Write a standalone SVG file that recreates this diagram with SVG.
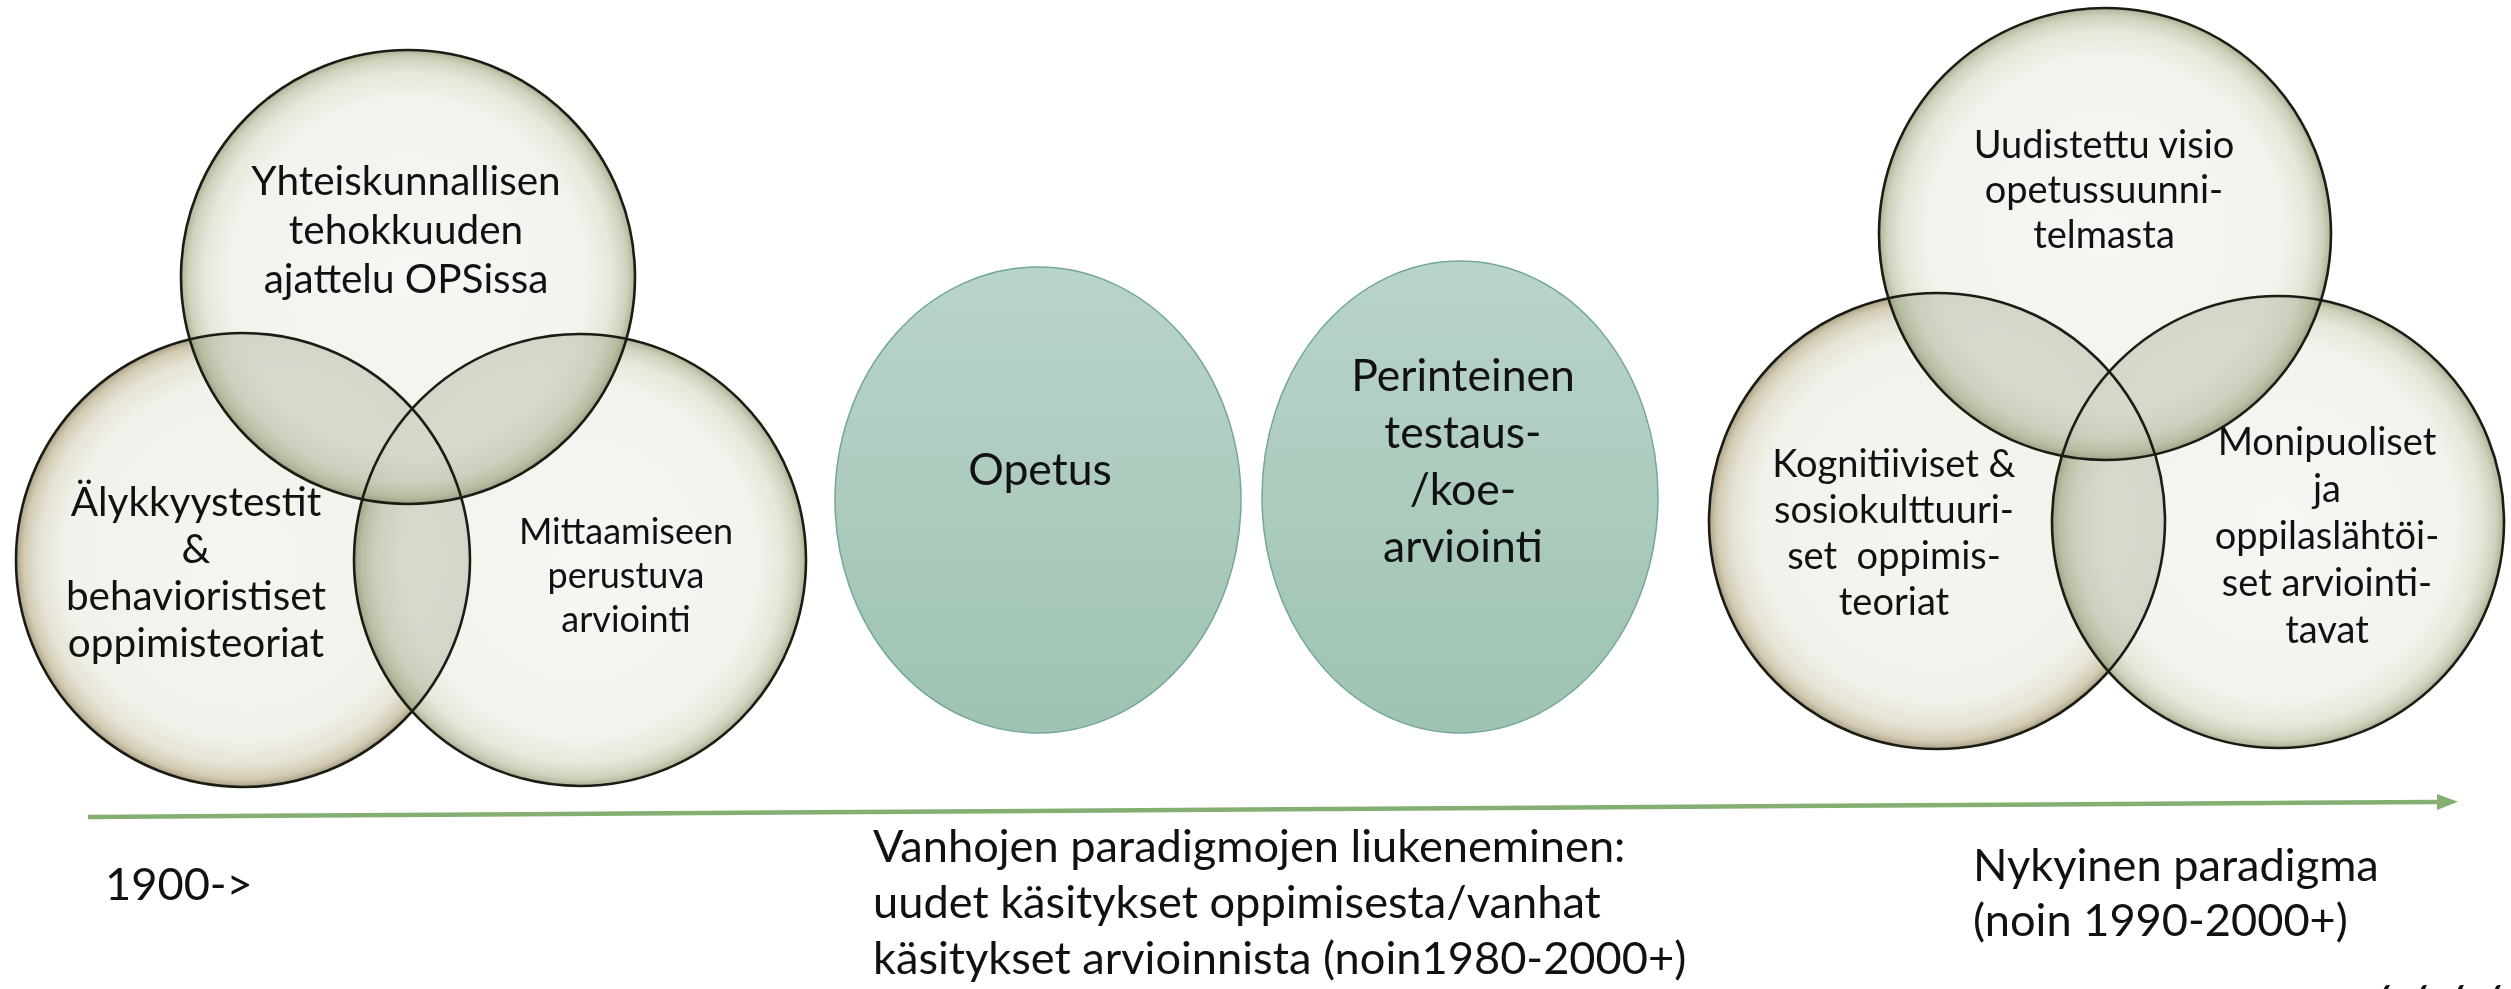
<svg xmlns="http://www.w3.org/2000/svg" width="2511" height="989" viewBox="0 0 2511 989">
  <style>
    .t { font-family: Lato, "Liberation Sans", sans-serif; fill: #111; }
    .c1 { font-size: 40.5px; text-anchor: middle; }
    .c2 { font-size: 36px; text-anchor: middle; }
    .c3 { font-size: 38px; text-anchor: middle; }
    .c4 { font-size: 44.5px; text-anchor: middle; }
    .b { font-size: 45.2px; }
    .outline { fill: none; stroke: #1c1c14; stroke-width: 2.6; }
    .lens { fill: #737a55; }
    .mid { stroke: #73a893; stroke-width: 1.5; fill: url(#gMid); }
  </style>
  <defs>
    <radialGradient id="gGreen" cx="0.5" cy="0.5" r="0.5">
      <stop offset="0" stop-color="#f5f6f2"/>
      <stop offset="0.78" stop-color="#f1f2ec"/>
      <stop offset="0.9" stop-color="#e2e5d6"/>
      <stop offset="0.965" stop-color="#c9cdb4"/>
      <stop offset="1" stop-color="#a5aa8b"/>
    </radialGradient>
    <radialGradient id="gBeige" cx="0.5" cy="0.5" r="0.5">
      <stop offset="0" stop-color="#f5f5f1"/>
      <stop offset="0.78" stop-color="#f2f2ec"/>
      <stop offset="0.9" stop-color="#e6e3d6"/>
      <stop offset="0.965" stop-color="#d2cbb2"/>
      <stop offset="1" stop-color="#aba388"/>
    </radialGradient>
    <linearGradient id="gMid" x1="0" y1="0" x2="0" y2="1">
      <stop offset="0" stop-color="#b9d4c9"/>
      <stop offset="1" stop-color="#9fc3b2"/>
    </linearGradient>
    <clipPath id="kLT"><circle cx="408" cy="277" r="227"/></clipPath>
    <clipPath id="kLB"><circle cx="243" cy="560" r="227"/></clipPath>
    <clipPath id="kLR"><circle cx="580" cy="560" r="226"/></clipPath>
    <clipPath id="kRT"><circle cx="2105" cy="234" r="226"/></clipPath>
    <clipPath id="kRB"><circle cx="1937" cy="521" r="228"/></clipPath>
    <clipPath id="kRR"><circle cx="2278" cy="522" r="226"/></clipPath>
    <marker id="arr" viewBox="0 0 21 16" refX="0" refY="8" markerWidth="21" markerHeight="16" markerUnits="userSpaceOnUse" orient="auto">
      <path d="M0,0 L21,8 L0,16 z" fill="#85ae73"/>
    </marker>
  </defs>

  <g id="fills">
    <circle cx="243" cy="560" r="227" fill="url(#gBeige)"/>
    <circle cx="580" cy="560" r="226" fill="url(#gGreen)" fill-opacity="0.9"/>
    <circle cx="408" cy="277" r="227" fill="url(#gGreen)" fill-opacity="0.9"/>
    <circle cx="1937" cy="521" r="228" fill="url(#gBeige)"/>
    <circle cx="2278" cy="522" r="226" fill="url(#gGreen)" fill-opacity="0.9"/>
    <circle cx="2105" cy="234" r="226" fill="url(#gGreen)" fill-opacity="0.9"/>
  </g>

  <g id="overlaps">
    <g opacity="0.2">
      <circle class="lens" cx="408" cy="277" r="227" clip-path="url(#kLB)"/>
      <circle class="lens" cx="408" cy="277" r="227" clip-path="url(#kLR)"/>
      <circle class="lens" cx="243" cy="560" r="227" clip-path="url(#kLR)"/>
    </g>
    <g opacity="0.2">
      <circle class="lens" cx="2105" cy="234" r="226" clip-path="url(#kRB)"/>
      <circle class="lens" cx="2105" cy="234" r="226" clip-path="url(#kRR)"/>
      <circle class="lens" cx="1937" cy="521" r="228" clip-path="url(#kRR)"/>
    </g>
  </g>

  <g id="connectors">
    <line x1="88" y1="817" x2="2437" y2="802" stroke="#85ae73" stroke-width="4.5" marker-end="url(#arr)"/>
  </g>

  <g id="node-yhteiskunnallisen">
    <circle class="outline" cx="408" cy="277" r="227"/>
    <text class="t c1" x="406" y="195">Yhteiskunnallisen</text>
    <text class="t c1" x="406" y="244">tehokkuuden</text>
    <text class="t c1" x="406" y="293">ajattelu OPSissa</text>
  </g>
  <g id="node-alykkyystestit">
    <circle class="outline" cx="243" cy="560" r="227"/>
    <text class="t c1" x="196" y="516">Älykkyystestit</text>
    <text class="t c1" x="196" y="563">&amp;</text>
    <text class="t c1" x="196" y="610">behavioristiset</text>
    <text class="t c1" x="196" y="657">oppimisteoriat</text>
  </g>
  <g id="node-mittaamiseen">
    <circle class="outline" cx="580" cy="560" r="226"/>
    <text class="t c2" x="626" y="544">Mittaamiseen</text>
    <text class="t c2" x="626" y="588">perustuva</text>
    <text class="t c2" x="626" y="632">arviointi</text>
  </g>

  <g id="node-opetus">
    <ellipse class="mid" cx="1038" cy="500" rx="203" ry="233"/>
    <text class="t c4" x="1040" y="485">Opetus</text>
  </g>
  <g id="node-perinteinen">
    <ellipse class="mid" cx="1460" cy="497" rx="198" ry="236"/>
    <text class="t c4" x="1463" y="391">Perinteinen</text>
    <text class="t c4" x="1463" y="448">testaus-</text>
    <text class="t c4" x="1463" y="505">/koe-</text>
    <text class="t c4" x="1463" y="562">arviointi</text>
  </g>

  <g id="node-uudistettu">
    <circle class="outline" cx="2105" cy="234" r="226"/>
    <text class="t c3" x="2104" y="158">Uudistettu visio</text>
    <text class="t c3" x="2104" y="203">opetussuunni-</text>
    <text class="t c3" x="2104" y="248">telmasta</text>
  </g>
  <g id="node-kognitiiviset">
    <circle class="outline" cx="1937" cy="521" r="228"/>
    <text class="t c3" x="1894" y="477">Kognitiiviset &amp;</text>
    <text class="t c3" x="1894" y="523">sosiokulttuuri-</text>
    <text class="t c3" x="1894" y="569" xml:space="preserve">set  oppimis-</text>
    <text class="t c3" x="1894" y="615">teoriat</text>
  </g>
  <g id="node-monipuoliset">
    <circle class="outline" cx="2278" cy="522" r="226"/>
    <text class="t c3" x="2327" y="455">Monipuoliset</text>
    <text class="t c3" x="2327" y="502">ja</text>
    <text class="t c3" x="2327" y="549">oppilaslähtöi-</text>
    <text class="t c3" x="2327" y="596">set arviointi-</text>
    <text class="t c3" x="2327" y="643">tavat</text>
  </g>

  <g id="labels">
    <text class="t b" x="105" y="900">1900-&gt;</text>
    <text class="t b" x="873" y="862">Vanhojen paradigmojen liukeneminen:</text>
    <text class="t b" x="873" y="918">uudet käsitykset oppimisesta/vanhat</text>
    <text class="t b" x="873" y="974">käsitykset arvioinnista (noin1980-2000+)</text>
    <text class="t b" x="1973" y="881">Nykyinen paradigma</text>
    <text class="t b" x="1973" y="936">(noin 1990-2000+)</text>
    <text class="t" x="2370 2407 2444 2481" y="1017" style="font-size:44px;font-weight:bold;font-style:italic">////</text>
  </g>
</svg>
